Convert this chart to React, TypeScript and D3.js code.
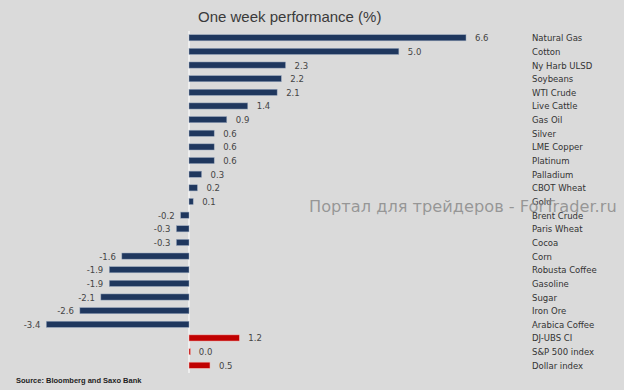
import React, { useEffect, useRef } from 'react';
import * as d3 from 'd3';

const categories = [
  'Natural Gas', 'Cotton', 'Ny Harb ULSD', 'Soybeans', 'WTI Crude', 'Live Cattle',
  'Gas Oil', 'Silver', 'LME Copper', 'Platinum', 'Palladium', 'CBOT Wheat', 'Gold',
  'Brent Crude', 'Paris Wheat', 'Cocoa', 'Corn', 'Robusta Coffee', 'Gasoline',
  'Sugar', 'Iron Ore', 'Arabica Coffee', 'DJ-UBS CI', 'S&P 500 index', 'Dollar index',
];
const values = [
  6.6, 5.0, 2.3, 2.2, 2.1, 1.4, 0.9, 0.6, 0.6, 0.6, 0.3, 0.2, 0.1,
  -0.2, -0.3, -0.3, -1.6, -1.9, -1.9, -2.1, -2.6, -3.4, 1.2, 0.02, 0.5,
];
const valueLabels = [
  '6.6', '5.0', '2.3', '2.2', '2.1', '1.4', '0.9', '0.6', '0.6', '0.6', '0.3', '0.2', '0.1',
  '-0.2', '-0.3', '-0.3', '-1.6', '-1.9', '-1.9', '-2.1', '-2.6', '-3.4', '1.2', '0.0', '0.5',
];
// last three rows are benchmark indices (red)
const isIndex = categories.map((c, i) => i >= 22);

const W = 624, H = 390;

export default function App() {
  const ref = useRef<SVGSVGElement>(null);

  useEffect(() => {
    const svg = d3.select(ref.current);
    svg.selectAll('*').remove();

    const data = categories.map((c, i) => ({ name: c, value: values[i], label: valueLabels[i], idx: isIndex[i] }));

    const x = d3.scaleLinear().domain([0, 6.6]).range([189, 466]);
    const y = d3.scaleBand().domain(categories).range([31, 372]).paddingInner(0.55).paddingOuter(0.27);

    svg.append('rect').attr('width', W).attr('height', H).attr('fill', '#dadada');

    svg.append('text')
      .attr('x', 198).attr('y', 22)
      .attr('font-family', 'Liberation Sans, Arial, sans-serif')
      .attr('font-size', 15)
      .attr('fill', '#3a3a3a')
      .text('One week performance (%)');

    // zero line
    svg.append('line')
      .attr('x1', x(0)).attr('x2', x(0))
      .attr('y1', 31).attr('y2', 373)
      .attr('stroke', '#f4f4f4').attr('stroke-width', 1.5);

    const rows = svg.selectAll('.row').data(data).enter().append('g');

    rows.append('rect')
      .attr('x', d => x(Math.min(0, d.value)))
      .attr('y', d => y(d.name)!)
      .attr('width', d => Math.max(1.5, Math.abs(x(d.value) - x(0))))
      .attr('height', y.bandwidth())
      .attr('fill', d => (d.idx ? '#c00000' : '#1f375e'))
      .attr('stroke', d => (d.idx ? '#f3b4b0' : '#9aa8bd'))
      .attr('stroke-width', 0.5);

    rows.append('text')
      .attr('x', d => (d.value >= 0 ? x(d.value) + 9 : x(d.value) - 6))
      .attr('y', d => y(d.name)! + y.bandwidth() / 2 + 3.5)
      .attr('text-anchor', d => (d.value >= 0 ? 'start' : 'end'))
      .attr('font-family', 'DejaVu Sans, sans-serif')
      .attr('font-size', 8.5)
      .attr('fill', '#444')
      .text(d => d.label);

    rows.append('text')
      .attr('x', 532)
      .attr('y', d => y(d.name)! + y.bandwidth() / 2 + 3.5)
      .attr('font-family', 'DejaVu Sans, sans-serif')
      .attr('font-size', 8.5)
      .attr('fill', '#333')
      .text(d => d.name);

    svg.append('text')
      .attr('x', 16).attr('y', 383)
      .attr('font-family', 'Liberation Sans, Arial, sans-serif')
      .attr('font-size', 7.5)
      .attr('font-weight', 'bold')
      .attr('fill', '#222')
      .text('Source: Bloomberg and Saxo Bank');

    // watermark
    svg.append('text')
      .attr('x', 309).attr('y', 212)
      .attr('font-family', 'DejaVu Sans, sans-serif')
      .attr('font-size', 16.2)
      .attr('fill', '#8a8a8a')
      .attr('fill-opacity', 0.85)
      .text('Портал для трейдеров - ForTrader.ru');
  }, []);

  return (
    <svg ref={ref} width={W} height={H} style={{ position: 'absolute', left: 0, top: 0 }} />
  );
}
